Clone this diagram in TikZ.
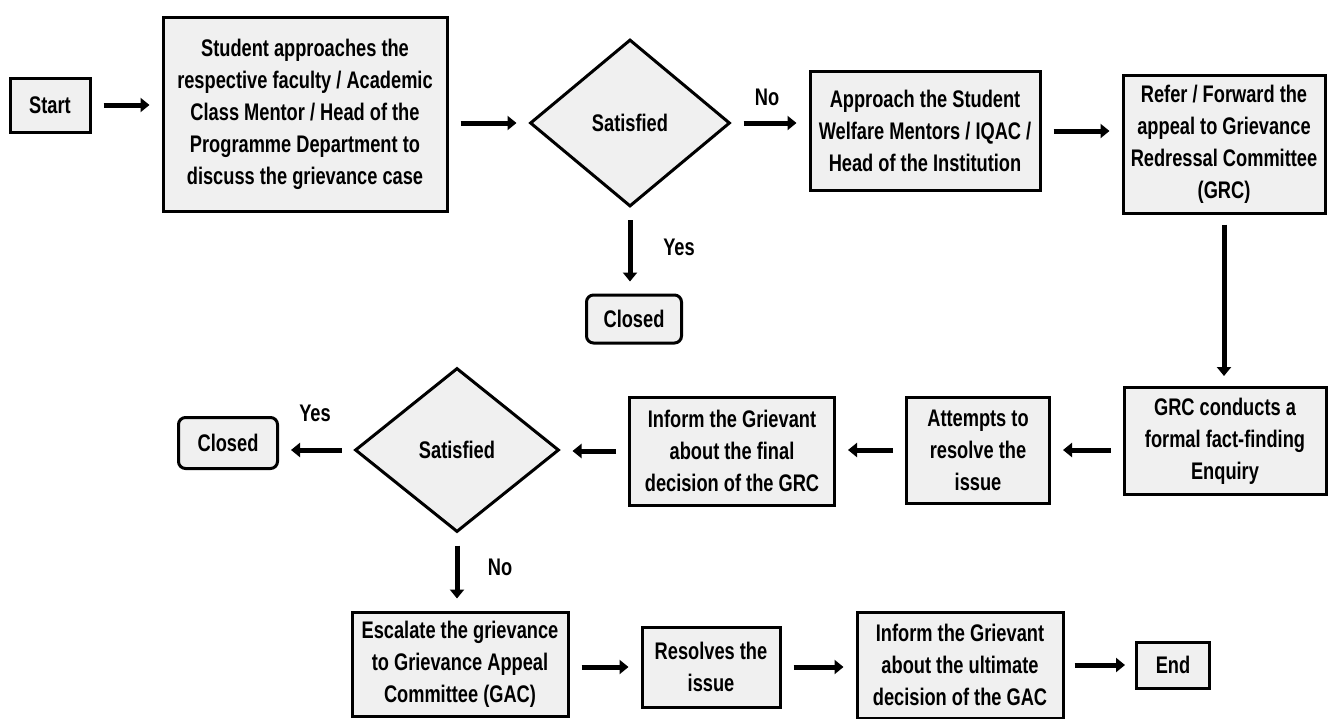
\documentclass[tikz,border=0pt]{standalone}
\usepackage{fontspec}
\setmainfont{Liberation Sans}[FakeStretch=0.76]
\usetikzlibrary{shapes.geometric,arrows.meta,calc}
\begin{document}
\begin{tikzpicture}[x=1pt,y=-1pt,
  txt/.style={font=\bfseries\fontsize{24}{32}\selectfont},
  box/.style={draw, line width=3pt, fill=black!6, align=center, inner sep=0pt, txt},
  rbox/.style={box, rounded corners=7pt},
  dia/.style={diamond, draw, line width=3pt, fill=black!6, inner sep=0pt, txt},
  arr/.style={line width=5pt, -{Triangle[length=9pt,width=14pt]}, shorten <=12pt, shorten >=12pt},
  lbl/.style={txt}]
\fill[white] (0,0) rectangle (1329,718);
\useasboundingbox (0,0) rectangle (1329,718);

% top row
\node[box, minimum width=80pt, minimum height=54pt] (start) at (50,105) {Start};
\node[box, minimum width=284pt, minimum height=194pt] (student) at (305,114)
  {Student approaches the\\respective faculty / Academic\\Class Mentor / Head of the\\Programme Department to\\discuss the grievance case};
\node[dia, minimum width=200pt, minimum height=167pt] (d1) at (630,123) {Satisfied};
\node[rbox, minimum width=95pt, minimum height=48pt] (closed1) at (634,319) {Closed};
\node[box, minimum width=230pt, minimum height=119pt] (approach) at (925,131)
  {Approach the Student\\Welfare Mentors / IQAC /\\Head of the Institution};
\node[box, minimum width=202pt, minimum height=138pt] (refer) at (1224,144)
  {Refer / Forward the\\appeal to Grievance\\Redressal Committee\\(GRC)};

% middle row
\node[box, minimum width=202pt, minimum height=107pt] (grc) at (1225,441)
  {GRC conducts a\\formal fact-finding\\Enquiry};
\node[box, minimum width=143pt, minimum height=106pt] (attempts) at (978,450)
  {Attempts to\\resolve the\\issue};
\node[box, minimum width=205pt, minimum height=108pt] (inform) at (732,451)
  {Inform the Grievant\\about the final\\decision of the GRC};
\node[dia, minimum width=204pt, minimum height=164pt] (d2) at (457,450) {Satisfied};
\node[rbox, minimum width=99pt, minimum height=51pt] (closed2) at (228,443) {Closed};

% bottom row
\node[box, minimum width=216pt, minimum height=104pt] (escalate) at (460,664)
  {Escalate the grievance\\to Grievance Appeal\\Committee (GAC)};
\node[box, minimum width=138pt, minimum height=80pt] (resolves) at (711,667)
  {Resolves the\\issue};
\node[box, minimum width=206pt, minimum height=106pt] (inform3) at (960,665)
  {Inform the Grievant\\about the ultimate\\decision of the GAC};
\node[box, minimum width=73pt, minimum height=46pt] (end) at (1173,665) {End};

% connectors
\draw[arr] (start.east) -- (start.east -| student.west);
\draw[arr] (student.east |- d1.west) -- (d1.west);
\draw[arr] (d1.east) -- (d1.east -| approach.west);
\draw[arr] (d1.south) -- (d1.south |- closed1.north);
\draw[arr] (approach.east) -- (approach.east -| refer.west);
\draw[arr, shorten <=10pt, shorten >=10pt] (refer.south) -- (refer.south |- grc.north);
\draw[arr] (grc.west |- attempts.east) -- (attempts.east);
\draw[arr] (attempts.west) -- (attempts.west -| inform.east);
\draw[arr] (inform.west) -- (inform.west -| d2.east);
\draw[arr] (d2.west) -- (d2.west -| closed2.east);
\draw[arr] (d2.south) -- (d2.south |- escalate.north);
\draw[arr] (escalate.east |- resolves.west) -- (resolves.west);
\draw[arr] (resolves.east) -- (resolves.east -| inform3.west);
\draw[arr, shorten <=10pt, shorten >=10pt] (inform3.east |- end.west) -- (end.west);

% labels
\node[lbl] (no1) at (767,97) {No};
\node[lbl] (yes1) at (679,247) {Yes};
\node[lbl] (yes2) at (315,413) {Yes};
\node[lbl] (no2) at (500,567) {No};
\end{tikzpicture}
\end{document}
